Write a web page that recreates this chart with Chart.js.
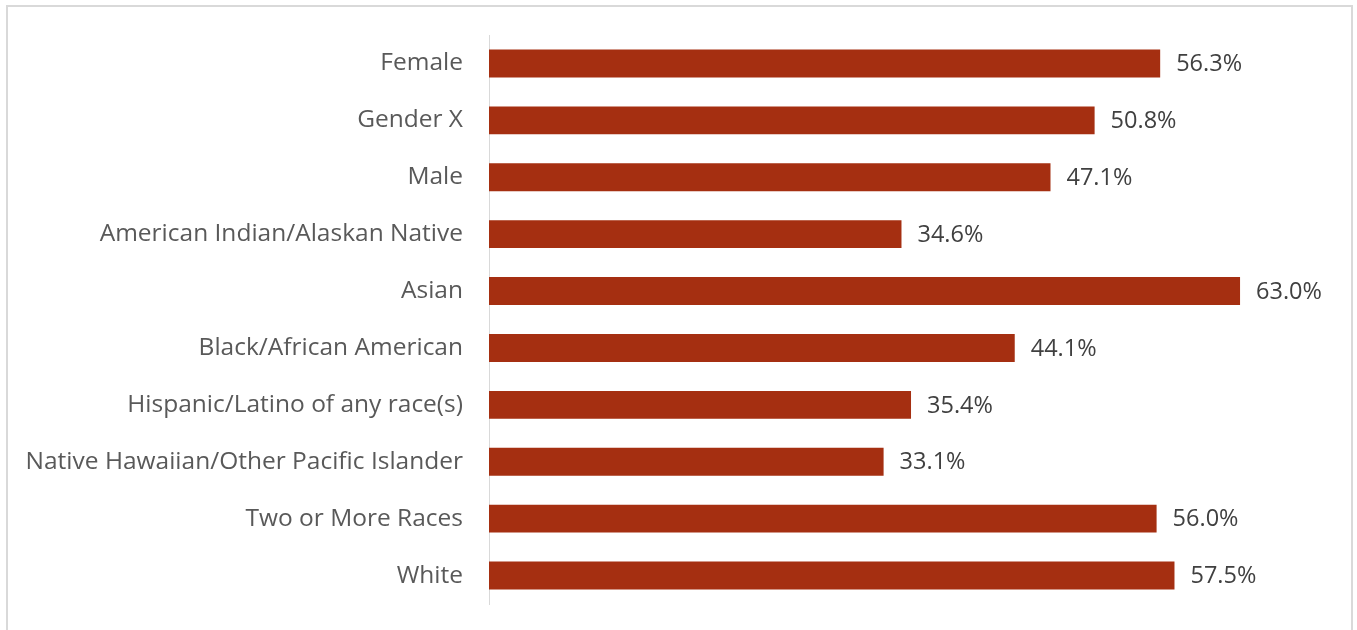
<!DOCTYPE html>
<html>
<head>
<meta charset="utf-8">
<script src="https://cdn.jsdelivr.net/npm/chart.js@4"></script>
<style>
  html, body { margin: 0; padding: 0; background: #fff; overflow: hidden; }
  #wrap { position: relative; width: 1357px; height: 630px; }
  #frame { position: absolute; left: 6px; top: 5px; right: 4px; bottom: -10px; border: 2px solid #d9d9d9; }
  canvas { position: absolute; left: 0; top: 0; }
</style>
</head>
<body>
<div id="wrap">
  <div id="frame"></div>
  <canvas id="barras" width="1357" height="630"></canvas>
</div>
<script>
// categories and values (percent)
const categorias = [
  'Female',
  'Gender X',
  'Male',
  'American Indian/Alaskan Native',
  'Asian',
  'Black/African American',
  'Hispanic/Latino of any race(s)',
  'Native Hawaiian/Other Pacific Islander',
  'Two or More Races',
  'White'
];
const valores = [56.3, 50.8, 47.1, 34.6, 63.0, 44.1, 35.4, 33.1, 56.0, 57.5];

const fuente = "'Open Sans', sans-serif";

// value labels at the end of each bar
const etiquetas = {
  id: 'etiquetas',
  afterDatasetsDraw(chart) {
    const ctx = chart.ctx;
    const meta = chart.getDatasetMeta(0);
    ctx.save();
    ctx.font = '23.5px ' + fuente;
    ctx.fillStyle = '#404040';
    ctx.textAlign = 'left';
    ctx.textBaseline = 'middle';
    meta.data.forEach((bar, i) => {
      ctx.fillText(valores[i].toFixed(1) + '%', bar.x + 16, bar.y + 1);
    });
    ctx.restore();
  }
};

new Chart(document.getElementById('barras'), {
  type: 'bar',
  data: {
    labels: categorias,
    datasets: [{
      data: valores,
      backgroundColor: '#a52f11',
      borderWidth: 0,
      barPercentage: 0.49,
      categoryPercentage: 1.0
    }]
  },
  options: {
    indexAxis: 'y',
    responsive: false,
    animation: false,
    devicePixelRatio: 1,
    layout: { padding: { left: 0, right: 33.5, top: 35, bottom: 26 } },
    plugins: {
      legend: { display: false },
      tooltip: { enabled: false }
    },
    scales: {
      x: { display: false, min: 0, max: 70 },
      y: {
        grid: { display: false, drawTicks: false },
        border: { display: true, color: '#d9d9d9', width: 1 },
        ticks: {
          color: '#595959',
          padding: 26,
          font: { family: fuente, size: 24.5 }
        },
        afterFit(scale) {
          scale.width = 489;
          scale.paddingTop = 0;
          scale.paddingBottom = 0;
        }
      }
    }
  },
  plugins: [etiquetas]
});
</script>
</body>
</html>
